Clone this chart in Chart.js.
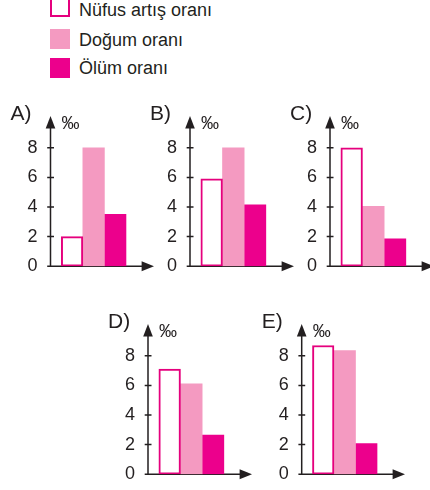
<!DOCTYPE html>
<html><head><meta charset="utf-8">
<script src="https://cdn.jsdelivr.net/npm/chart.js@4.4.1/dist/chart.umd.min.js"></script>
<style>
html,body{margin:0;padding:0;background:#fff;width:430px;height:490px;overflow:hidden;}
body{position:relative;font-family:"Liberation Sans",Arial,Helvetica,sans-serif;color:#231F20;}
.txt{position:absolute;white-space:nowrap;line-height:1;}
canvas{position:absolute;}
.box{position:absolute;width:20px;height:20px;box-sizing:border-box;}
</style></head><body>
<script>
// ---- data ----
const panelLabels = ['A)', 'B)', 'C)', 'D)', 'E)'];
const seriesNames = ['Nüfus artış oranı', 'Doğum oranı', 'Ölüm oranı'];
const nufusArtis = [2.0, 5.9, 8.0, 7.1, 8.7];
const dogum      = [8.0, 8.0, 4.05, 6.1, 8.35];
const olum       = [3.5, 4.15, 1.85, 2.65, 2.07];
const yTicks     = [0, 2, 4, 6, 8];
const unitLabel  = '‰';

// ---- styles / layout ----
const ink = '#231F20';
const fills   = ['#FFFFFF', '#F49AC1', '#EC008C'];
const borders = ['#E5007D', '#F49AC1', '#EC008C'];
const borderW = [2, 0, 0];
const panelAxisX = [50.5, 190, 330, 148, 301.7];
const panelRow   = [0, 0, 0, 1, 1];
const rowTip  = [116, 324];
const rowZero = [267.7, 475.7];
const seriesValues = [nufusArtis, dogum, olum];

// legend (HTML)
const legendBoxTop = [-2.7, 29, 57.7];
const legendTextTop = [0.8, 30.5, 58.8];
seriesNames.forEach((name, i) => {
  const b = document.createElement('div');
  b.className = 'box';
  b.style.left = '50px'; b.style.top = legendBoxTop[i] + 'px';
  b.style.background = fills[i];
  if (borderW[i]) b.style.border = '2px solid ' + borders[i];
  document.body.appendChild(b);
  const t = document.createElement('div');
  t.className = 'txt';
  t.style.left = '79px'; t.style.top = legendTextTop[i] + 'px';
  t.style.fontSize = '18px';
  t.textContent = name;
  document.body.appendChild(t);
});

const axesPlugin = {
  id: 'axesArrows',
  beforeDatasetsDraw(chart) {
    const {ctx, chartArea: {left, top, right, bottom}, scales: {y}} = chart;
    const ah = 12.4, aw = 4.8;
    ctx.save();
    ctx.strokeStyle = ink; ctx.fillStyle = ink; ctx.lineWidth = 1.5;
    ctx.beginPath();
    ctx.moveTo(left, bottom); ctx.lineTo(left, top + ah - 1);
    ctx.moveTo(left - 3.3, bottom); ctx.lineTo(right - ah + 1, bottom);
    yTicks.forEach(v => {
      if (v === 0) return;
      const py = y.getPixelForValue(v);
      ctx.moveTo(left - 3.3, py); ctx.lineTo(left + 3.5, py);
    });
    ctx.stroke();
    ctx.beginPath();
    ctx.moveTo(left, top); ctx.lineTo(left - aw, top + ah); ctx.lineTo(left + aw, top + ah);
    ctx.closePath(); ctx.fill();
    ctx.beginPath();
    ctx.moveTo(right, bottom); ctx.lineTo(right - ah, bottom - 5); ctx.lineTo(right - ah, bottom + 5);
    ctx.closePath(); ctx.fill();
    ctx.restore();
  }
};

panelLabels.forEach((lab, pi) => {
  const ax = panelAxisX[pi];
  const r = panelRow[pi];
  const tip = rowTip[r], zero = rowZero[r];
  const cLeft = Math.floor(ax - 40);
  const cTop = tip - 16;
  const W = 148, H = 182;
  const cv = document.createElement('canvas');
  cv.width = W; cv.height = H;
  cv.style.left = cLeft + 'px'; cv.style.top = cTop + 'px';
  cv.style.width = W + 'px'; cv.style.height = H + 'px';
  document.body.appendChild(cv);

  // panel letter
  const l = document.createElement('div');
  l.className = 'txt';
  l.style.left = (ax - 40) + 'px'; l.style.top = (tip - 13.8) + 'px';
  l.style.fontSize = '21px';
  l.textContent = lab;
  document.body.appendChild(l);
  // unit
  const u = document.createElement('div');
  u.className = 'txt';
  u.style.left = (ax + 11) + 'px'; u.style.top = (tip - 2.5) + 'px';
  u.style.fontSize = '18px';
  u.textContent = unitLabel;
  document.body.appendChild(u);

  new Chart(cv, {
    type: 'bar',
    data: {
      datasets: seriesValues.map((vals, si) => ({
        label: seriesNames[si],
        data: [{x: si + 1, y: vals[pi]}],
        backgroundColor: fills[si],
        borderColor: borders[si],
        borderWidth: borderW[si],
        borderSkipped: false,
        grouped: false,
        barPercentage: 1,
        categoryPercentage: 1
      }))
    },
    options: {
      responsive: false,
      animation: false,
      devicePixelRatio: 1,
      layout: {padding: {top: 16, bottom: H - 16 - (zero - tip), left: ax - 40 - cLeft, right: 4}},
      plugins: {legend: {display: false}, tooltip: {enabled: false}},
      scales: {
        x: {
          type: 'linear', min: 0, max: 4.8, display: false, offset: false,
          afterBuildTicks: s => { s.ticks = [0, 1, 2, 3, 4].map(v => ({value: v})); }
        },
        y: {
          type: 'linear', min: 0, max: 10.15,
          border: {display: false},
          grid: {display: false},
          afterBuildTicks: s => { s.ticks = yTicks.map(v => ({value: v})); },
          afterFit: s => { s.width = 40; },
          ticks: {
            padding: 5, color: ink,
            font: {family: 'Liberation Sans', size: 18}
          }
        }
      }
    },
    plugins: [axesPlugin]
  });
});
</script>
</body></html>
